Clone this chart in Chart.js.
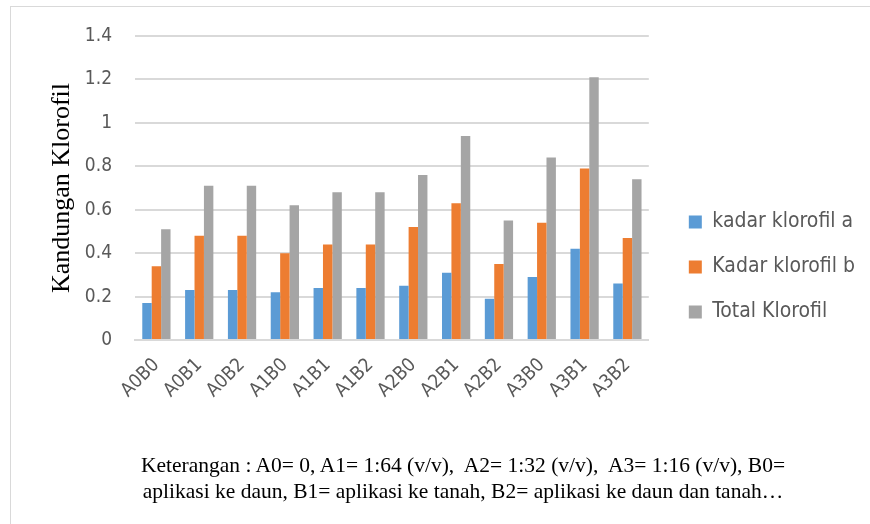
<!DOCTYPE html>
<html>
<head>
<meta charset="utf-8">
<script src="https://cdn.jsdelivr.net/npm/chart.js@4"></script>
<style>
  html, body { margin: 0; padding: 0; background: #fff; }
  #wrap { position: relative; width: 870px; height: 524px; overflow: hidden; }
  #frame { position: absolute; left: 10px; top: 6px; width: 900px; height: 600px; border: 1.5px solid #d9d9d9; }
  #chart { position: absolute; left: 0; top: 0; }
  #note {
    position: absolute; left: 0; top: 452px; width: 926px; text-align: center;
    font-family: "Liberation Serif", "DejaVu Serif", serif; font-size: 21.5px; line-height: 26px; color: #000;
  }
</style>
</head>
<body>
<div id="wrap">
  <div id="frame"></div>
  <canvas id="chart" width="870" height="524"></canvas>
  <div id="note">Keterangan : A0= 0, A1= 1:64 (v/v),&nbsp; A2= 1:32 (v/v),&nbsp; A3= 1:16 (v/v), B0=<br>aplikasi ke daun, B1= aplikasi ke tanah, B2= aplikasi ke daun dan tanah…</div>
</div>
<script>
const categories = ['A0B0', 'A0B1', 'A0B2', 'A1B0', 'A1B1', 'A1B2', 'A2B0', 'A2B1', 'A2B2', 'A3B0', 'A3B1', 'A3B2'];
const klorofilA = [0.17, 0.23, 0.23, 0.22, 0.24, 0.24, 0.25, 0.31, 0.19, 0.29, 0.42, 0.26];
const klorofilB = [0.34, 0.48, 0.48, 0.40, 0.44, 0.44, 0.52, 0.63, 0.35, 0.54, 0.79, 0.47];
const klorofilTotal = [0.51, 0.71, 0.71, 0.62, 0.68, 0.68, 0.76, 0.94, 0.55, 0.84, 1.21, 0.74];
const yTicks = [0, 0.2, 0.4, 0.6, 0.8, 1, 1.2, 1.4];

const sansFont = '"Liberation Sans Narrow", "DejaVu Sans Condensed", "Open Sans", sans-serif';

const ctx = document.getElementById('chart').getContext('2d');
const chart = new Chart(ctx, {
    type: 'bar',
    data: {
        labels: categories,
        datasets: [
            { label: 'kadar klorofil a', data: klorofilA, backgroundColor: '#5b9bd5' },
            { label: 'Kadar klorofil b', data: klorofilB, backgroundColor: '#ed7d31' },
            { label: 'Total Klorofil', data: klorofilTotal, backgroundColor: '#a5a5a5' }
        ]
    },
    options: {
        responsive: false,
        animation: false,
        datasets: { bar: { categoryPercentage: 0.66, barPercentage: 1 } },
        layout: { padding: { top: 36, bottom: 26, left: 0, right: 5 } },
        plugins: {
            tooltip: { enabled: false },
            legend: {
                position: 'right',
                labels: {
                    color: '#595959',
                    font: { family: sansFont, size: 21 },
                    boxWidth: 13,
                    boxHeight: 13,
                    padding: 24
                }
            }
        },
        scales: {
            x: {
                grid: { display: false },
                border: { color: '#d9d9d9', width: 2 },
                ticks: {
                    color: '#595959',
                    font: { family: sansFont, size: 19 },
                    maxRotation: 45,
                    minRotation: 45,
                    padding: 6
                },
                afterFit: (scale) => { scale.height = 158; }
            },
            y: {
                min: 0,
                max: 1.4,
                afterBuildTicks: (scale) => { scale.ticks = yTicks.map(v => ({ value: v })); },
                grid: { color: '#d9d9d9', lineWidth: 2, drawTicks: false },
                border: { display: false },
                ticks: {
                    color: '#595959',
                    font: { family: sansFont, size: 19 },
                    padding: 23,
                    callback: (value) => String(Math.round(value * 10) / 10)
                },
                title: {
                    display: true,
                    text: 'Kandungan Klorofil',
                    color: '#000',
                    font: { family: '"Liberation Serif", "DejaVu Serif", serif', size: 26 },
                    padding: { top: 47, bottom: 0 }
                },
                afterFit: (scale) => { scale.width = 135; }
            },
            // hidden right-side axis, only keeps a gap between plot and legend
            gap: {
                display: false,
                position: 'right',
                afterFit: (scale) => { scale.width = 16; }
            }
        }
    }
});
</script>
</body>
</html>
